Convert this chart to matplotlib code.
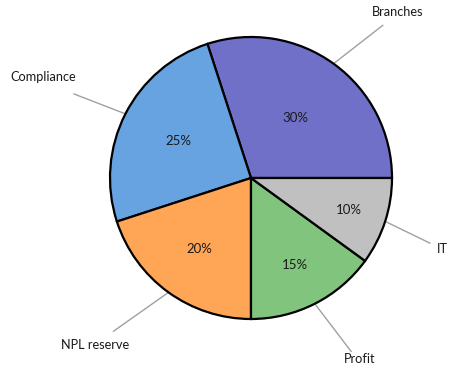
import numpy as np
import matplotlib
matplotlib.use("Agg")
import matplotlib.pyplot as plt

categories = ["Branches", "Compliance", "NPL reserve", "Profit", "IT"]
values = [30, 25, 20, 15, 10]

# layout / style (not data)
colors = ["#7070c9", "#66a3e0", "#ffa556", "#80c47e", "#c0c0c0"]
pct_radius = [0.53, 0.58, 0.62, 0.69, 0.73]
label_angle = [48.5, 154.2, 227.0, 300.9, 339.6]
label_dist = [1.57, 1.64, 1.62, 1.50, 1.45]
line_angle = [49.2, 154.6, 228.1, 300.0, 340.0]
line_dist = [1.43, 1.39, 1.46, 1.42, 1.35]

plt.rcParams["font.family"] = ["Lato", "DejaVu Sans"]

fig = plt.figure(figsize=(4.52, 3.66), dpi=100)
ax = fig.add_axes([0, 0, 1, 1])
wedges, _ = ax.pie(values, colors=colors, startangle=0, counterclock=True,
                   radius=1.0,
                   wedgeprops=dict(edgecolor="black", linewidth=1.6))

for w, cat, v, pr, la, ld, lna, lnd in zip(wedges, categories, values, pct_radius,
                                           label_angle, label_dist, line_angle, line_dist):
    mid = np.deg2rad((w.theta1 + w.theta2) / 2)
    c, s = np.cos(mid), np.sin(mid)
    ax.text(pr * c, pr * s, f"{v}%", ha="center", va="center",
            fontsize=9.5, color="#1a1a1a")
    x0, y0 = 1.01 * c, 1.01 * s
    a = np.deg2rad(lna)
    x1, y1 = lnd * np.cos(a), lnd * np.sin(a)
    ax.plot([x0, x1], [y0, y1], color="#a0a0a0", lw=1.0, zorder=0)
    b = np.deg2rad(la)
    ax.text(ld * np.cos(b), ld * np.sin(b), cat, ha="center", va="center",
            fontsize=9.2, color="#1a1a1a")

ax.set_xlim(-251 / 141, 201 / 141)
ax.set_ylim(-188 / 141, 178 / 141)
ax.set_aspect("auto")
ax.axis("off")
fig.savefig("out.png", dpi=100, facecolor="white")
